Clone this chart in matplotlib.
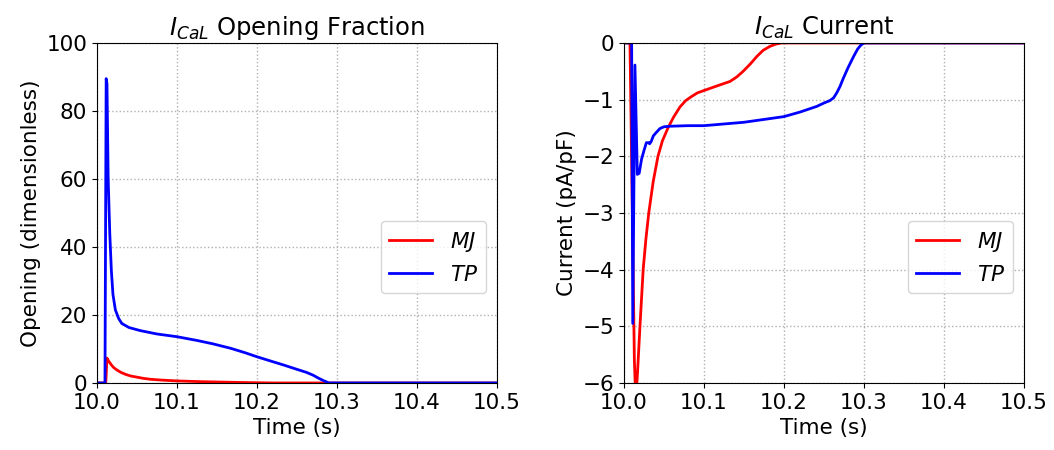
import numpy as np
import matplotlib.pyplot as plt

# I_CaL opening fraction (left panel)
t_open_mj = [10.0, 10.011, 10.0125, 10.015, 10.018, 10.021, 10.025, 10.03, 10.036, 10.042,
             10.05, 10.058, 10.067, 10.08, 10.1, 10.13, 10.167, 10.19, 10.22, 10.5]
open_mj = [0, 0, 7.3, 6.3, 5.3, 4.5, 3.8, 3.1, 2.5, 2.06, 1.7, 1.35, 1.08, 0.85, 0.6,
           0.38, 0.2, 0.1, 0.0, 0.0]

t_open_tp = [10.0, 10.01, 10.0115, 10.0125, 10.014, 10.016, 10.018, 10.02, 10.023, 10.027,
             10.031, 10.04, 10.054, 10.075, 10.1, 10.125, 10.145, 10.167, 10.185, 10.2,
             10.215, 10.233, 10.25, 10.262, 10.27, 10.277, 10.283, 10.29, 10.5]
open_tp = [0, 0, 89.5, 88, 60, 44, 33, 26, 21.5, 19, 17.5, 16.3, 15.4, 14.4, 13.6, 12.5,
           11.5, 10.2, 8.9, 7.7, 6.6, 5.3, 4.0, 3.1, 2.3, 1.4, 0.7, 0.0, 0.0]

# I_CaL current (right panel)
t_cur_mj = [10.0, 10.0075, 10.0105, 10.013, 10.0148, 10.017, 10.02, 10.024, 10.0275,
            10.031, 10.0365, 10.0425, 10.048, 10.055, 10.062, 10.07, 10.077, 10.084,
            10.092, 10.1, 10.116, 10.1325, 10.141, 10.149, 10.158, 10.166, 10.174,
            10.1825, 10.19, 10.197, 10.5]
cur_mj = [0, 0, -3.0, -5.6, -6.3, -5.8, -5.0, -4.0, -3.45, -3.0, -2.45, -2.0, -1.73, -1.5,
          -1.31, -1.13, -1.02, -0.95, -0.88, -0.84, -0.76, -0.68, -0.6, -0.5, -0.37, -0.24,
          -0.13, -0.06, -0.02, 0.0, 0.0]

t_cur_tp = [10.0, 10.0096, 10.011, 10.0137, 10.0167, 10.019, 10.022, 10.025, 10.028,
            10.031, 10.032, 10.034, 10.0367, 10.041, 10.045, 10.05, 10.0575, 10.08, 10.1,
            10.15, 10.2, 10.22, 10.241, 10.25, 10.257, 10.262, 10.266, 10.27, 10.274,
            10.28, 10.287, 10.292, 10.296, 10.3, 10.5]
cur_tp = [0, 0, -4.95, -0.39, -2.32, -2.3, -2.05, -1.9, -1.76, -1.76, -1.78, -1.74, -1.64,
          -1.57, -1.51, -1.48, -1.47, -1.46, -1.46, -1.4, -1.3, -1.22, -1.12, -1.06, -1.02,
          -0.97, -0.88, -0.77, -0.63, -0.44, -0.24, -0.11, -0.04, 0.0, 0.0]

fs = 15.5
fig = plt.figure(figsize=(10.54, 4.5), dpi=100)
ax1 = fig.add_axes([0.092, 0.149, 0.3795, 0.7556])
ax2 = fig.add_axes([0.592, 0.149, 0.3795, 0.7556])

ax1.plot(t_open_mj, open_mj, color="red", lw=2, label="$MJ$")
ax1.plot(t_open_tp, open_tp, color="blue", lw=2, label="$TP$")
ax1.set_ylim(0, 100)
ax1.set_ylabel("Opening (dimensionless)", fontsize=fs)
ax1.set_title("$I_{CaL}$ Opening Fraction", fontsize=17.5)

ax2.plot(t_cur_mj, cur_mj, color="red", lw=2, label="$MJ$")
ax2.plot(t_cur_tp, cur_tp, color="blue", lw=2, label="$TP$")
ax2.set_ylim(-6, 0)
ax2.set_ylabel("Current (pA/pF)", fontsize=fs)
ax2.set_title("$I_{CaL}$ Current", fontsize=17.5)

for ax in (ax1, ax2):
    ax.set_xlim(10.0, 10.5)
    ax.set_xticks([10.0, 10.1, 10.2, 10.3, 10.4, 10.5])
    ax.set_xlabel("Time (s)", fontsize=fs)
    ax.tick_params(labelsize=fs)
    ax.grid(True, linestyle=":", color="#b0b0b0", lw=1)
    ax.legend(loc="center right", bbox_to_anchor=(1.0, 0.37), fontsize=fs)

fig.savefig("out.png", dpi=100)
